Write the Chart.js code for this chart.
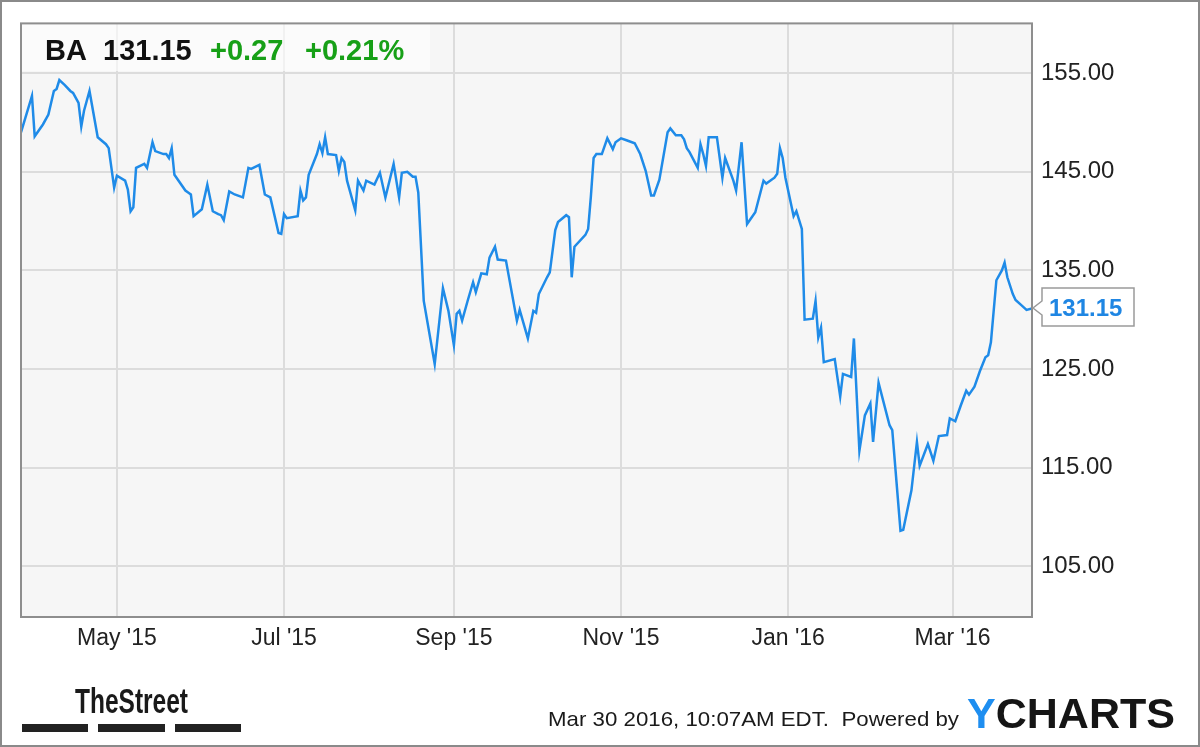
<!DOCTYPE html>
<html>
<head>
<meta charset="utf-8">
<title>BA</title>
<script src="https://cdn.jsdelivr.net/npm/chart.js@4.4.1/dist/chart.umd.min.js"></script>
<style>
  html, body { margin: 0; padding: 0; background: #fff; }
  canvas { display: block; }
</style>
</head>
<body>
<canvas id="ba-chart" width="1200" height="747"></canvas>
<script>
const dates = [
    '2015-03-27', '2015-03-31', '2015-04-01', '2015-04-04', '2015-04-06', '2015-04-08', '2015-04-09', '2015-04-10',
    '2015-04-12', '2015-04-14', '2015-04-15', '2015-04-17', '2015-04-18', '2015-04-19', '2015-04-21', '2015-04-24',
    '2015-04-27', '2015-04-28', '2015-04-30', '2015-05-01', '2015-05-04', '2015-05-05', '2015-05-06', '2015-05-07',
    '2015-05-08', '2015-05-11', '2015-05-12', '2015-05-14', '2015-05-15', '2015-05-18', '2015-05-19', '2015-05-20',
    '2015-05-21', '2015-05-22', '2015-05-26', '2015-05-27', '2015-05-28', '2015-05-29', '2015-06-01', '2015-06-03',
    '2015-06-05', '2015-06-07', '2015-06-08', '2015-06-09', '2015-06-11', '2015-06-13', '2015-06-16', '2015-06-18',
    '2015-06-19', '2015-06-22', '2015-06-24', '2015-06-26', '2015-06-29', '2015-06-30', '2015-07-01', '2015-07-02',
    '2015-07-06', '2015-07-07', '2015-07-08', '2015-07-09', '2015-07-10', '2015-07-13', '2015-07-14', '2015-07-15',
    '2015-07-16', '2015-07-17', '2015-07-20', '2015-07-21', '2015-07-22', '2015-07-23', '2015-07-24', '2015-07-27',
    '2015-07-28', '2015-07-30', '2015-07-31', '2015-08-03', '2015-08-05', '2015-08-07', '2015-08-10', '2015-08-12',
    '2015-08-13', '2015-08-15', '2015-08-17', '2015-08-18', '2015-08-19', '2015-08-21', '2015-08-25', '2015-08-28',
    '2015-08-30', '2015-09-01', '2015-09-02', '2015-09-03', '2015-09-04', '2015-09-06', '2015-09-08', '2015-09-09',
    '2015-09-11', '2015-09-13', '2015-09-14', '2015-09-16', '2015-09-17', '2015-09-20', '2015-09-24', '2015-09-25',
    '2015-09-28', '2015-09-30', '2015-10-01', '2015-10-02', '2015-10-05', '2015-10-06', '2015-10-08', '2015-10-09',
    '2015-10-12', '2015-10-13', '2015-10-14', '2015-10-15', '2015-10-19', '2015-10-20', '2015-10-21', '2015-10-22',
    '2015-10-23', '2015-10-25', '2015-10-27', '2015-10-29', '2015-10-30', '2015-11-01', '2015-11-03', '2015-11-06',
    '2015-11-08', '2015-11-10', '2015-11-12', '2015-11-13', '2015-11-15', '2015-11-18', '2015-11-19', '2015-11-21',
    '2015-11-23', '2015-11-24', '2015-11-25', '2015-11-26', '2015-11-29', '2015-11-30', '2015-12-01', '2015-12-02',
    '2015-12-03', '2015-12-06', '2015-12-08', '2015-12-09', '2015-12-12', '2015-12-13', '2015-12-15', '2015-12-17',
    '2015-12-20', '2015-12-23', '2015-12-24', '2015-12-27', '2015-12-28', '2015-12-29', '2015-12-30', '2015-12-31',
    '2016-01-03', '2016-01-04', '2016-01-06', '2016-01-07', '2016-01-10', '2016-01-11', '2016-01-12', '2016-01-13',
    '2016-01-14', '2016-01-18', '2016-01-20', '2016-01-21', '2016-01-24', '2016-01-25', '2016-01-27', '2016-01-29',
    '2016-01-31', '2016-02-01', '2016-02-03', '2016-02-07', '2016-02-08', '2016-02-11', '2016-02-12', '2016-02-15',
    '2016-02-17', '2016-02-18', '2016-02-21', '2016-02-23', '2016-02-25', '2016-02-28', '2016-02-29', '2016-03-02',
    '2016-03-04', '2016-03-06', '2016-03-07', '2016-03-09', '2016-03-11', '2016-03-13', '2016-03-14', '2016-03-15',
    '2016-03-17', '2016-03-19', '2016-03-20', '2016-03-21', '2016-03-23', '2016-03-24', '2016-03-26', '2016-03-28',
    '2016-03-30'
];

const prices = [
    149.0, 152.7, 148.6, 149.8, 150.8, 153.2, 153.4, 154.3,
    153.8, 153.2, 153.0, 152.0, 149.6, 151.2, 153.2, 148.5,
    147.8, 147.4, 143.4, 144.6, 144.1, 143.2, 141.0, 141.4,
    145.4, 145.8, 145.4, 148.0, 147.1, 146.8, 146.8, 146.4,
    147.4, 144.7, 143.1, 142.9, 142.7, 140.5, 141.2, 143.7,
    141.0, 140.7, 140.6, 140.1, 143.0, 142.7, 142.4, 145.4,
    145.3, 145.7, 142.7, 142.4, 138.8, 138.7, 140.7, 140.3,
    140.5, 143.1, 142.1, 142.4, 144.7, 146.8, 147.8, 146.9,
    148.5, 146.8, 146.7, 145.1, 146.4, 146.0, 144.1, 141.1,
    144.1, 143.1, 144.1, 143.7, 144.9, 142.4, 145.8, 142.4,
    144.9, 145.0, 144.5, 144.5, 142.9, 131.9, 125.5, 133.2,
    130.9, 127.4, 130.6, 130.9, 129.9, 131.9, 133.8, 132.8,
    134.7, 134.6, 136.3, 137.4, 136.1, 136.0, 129.9, 131.0,
    128.1, 130.9, 130.7, 132.6, 134.3, 134.8, 139.1, 139.9,
    140.6, 140.4, 134.3, 137.4, 138.6, 139.2, 142.5, 146.4,
    146.8, 146.8, 148.4, 147.3, 148.0, 148.4, 148.2, 147.9,
    146.8, 145.1, 142.6, 142.6, 144.2, 149.0, 149.4, 148.7,
    148.7, 148.3, 147.4, 147.0, 145.4, 147.8, 146.8, 145.6,
    148.5, 148.5, 144.4, 146.4, 144.1, 143.1, 148.0, 139.7,
    140.9, 144.1, 143.8, 144.4, 144.8, 147.4, 146.4, 144.4,
    140.5, 141.0, 139.2, 130.0, 130.1, 131.9, 128.2, 129.2,
    125.7, 126.0, 122.2, 124.5, 124.2, 128.1, 116.7, 120.3,
    121.5, 117.6, 123.6, 119.3, 118.8, 108.6, 108.7, 112.7,
    117.6, 115.2, 117.4, 115.7, 118.2, 118.3, 120.0, 119.7,
    121.3, 122.8, 122.4, 123.2, 124.8, 126.2, 126.4, 127.7,
    134.0, 135.0, 135.8, 134.3, 132.6, 132.0, 131.5, 131.0,
    131.15
];

const tickDates = ['2015-05-01', '2015-07-01', '2015-09-01', '2015-11-01', '2016-01-01', '2016-03-01'];
const tickLabels = ["May '15", "Jul '15", "Sep '15", "Nov '15", "Jan '16", "Mar '16"];
const yTicks = [105, 115, 125, 135, 145, 155];

const ticker = 'BA';
const lastPrice = '131.15';
const change = '+0.27';
const changePct = '+0.21%';
const stamp = 'Mar 30 2016, 10:07AM EDT.  Powered by';

document.addEventListener('DOMContentLoaded', () => {
    const canvas = document.getElementById('ba-chart');
    const FONT = '"Liberation Sans", Arial, sans-serif';
    const LINE_BLUE = '#1f8be8';

    const toDay = s => Date.UTC(+s.slice(0, 4), +s.slice(5, 7) - 1, +s.slice(8, 10)) / 864e5;
    const points = dates.map((d, i) => ({ x: toDay(d), y: prices[i] }));
    const tickDays = tickDates.map(toDay);

    const drawFitted = (ctx, text, x, y, width, font, color) => {
        ctx.save();
        ctx.font = font;
        ctx.fillStyle = color;
        ctx.textBaseline = 'alphabetic';
        const w = ctx.measureText(text).width;
        ctx.translate(x, y);
        ctx.scale(width / w, 1);
        ctx.fillText(text, 0, 0);
        ctx.restore();
    };

    const ychartsPlugin = {
        id: 'ychartsFrame',
        beforeDraw(chart) {
            const { ctx, chartArea: a } = chart;
            ctx.save();
            ctx.fillStyle = '#fff';
            ctx.fillRect(0, 0, chart.width, chart.height);
            ctx.fillStyle = '#f6f6f6';
            ctx.fillRect(a.left, a.top, a.right - a.left, a.bottom - a.top);
            ctx.restore();
        },
        beforeDatasetsDraw(chart) {
            const { ctx, chartArea: a } = chart;
            ctx.save();
            // header box over the grid
            ctx.fillStyle = 'rgba(255,255,255,0.6)';
            ctx.fillRect(a.left, a.top, 430 - a.left, 71 - a.top);
            ctx.font = `bold 29px ${FONT}`;
            ctx.textBaseline = 'alphabetic';
            ctx.fillStyle = '#111';
            ctx.fillText(ticker, 45, 60);
            ctx.fillText(lastPrice, 103, 60);
            ctx.fillStyle = '#17a017';
            ctx.fillText(change, 210, 60);
            ctx.fillText(changePct, 305, 60);
            ctx.restore();
        },
        afterDraw(chart) {
            const { ctx, chartArea: a, scales } = chart;
            ctx.save();

            ctx.strokeStyle = '#8e8e8e';
            ctx.lineWidth = 2;
            ctx.strokeRect(a.left, a.top, a.right - a.left, a.bottom - a.top);

            // last price tag
            const py = Math.round(scales.y.getPixelForValue(prices[prices.length - 1]));
            const bx = 1042, bw = 92, top = py - 20, bottom = py + 18;
            ctx.beginPath();
            ctx.moveTo(bx, top);
            ctx.lineTo(bx + bw, top);
            ctx.lineTo(bx + bw, bottom);
            ctx.lineTo(bx, bottom);
            ctx.lineTo(bx, py + 7);
            ctx.lineTo(a.right + 1, py);
            ctx.lineTo(bx, py - 7);
            ctx.closePath();
            ctx.fillStyle = '#fff';
            ctx.fill();
            ctx.strokeStyle = '#9a9a9a';
            ctx.lineWidth = 1.5;
            ctx.stroke();
            ctx.font = `bold 24px ${FONT}`;
            ctx.fillStyle = '#1f86e3';
            ctx.textBaseline = 'alphabetic';
            ctx.fillText(lastPrice, 1049, py + 8);

            // TheStreet logo
            drawFitted(ctx, 'TheStreet', 75, 713, 113, `bold 35px ${FONT}`, '#1a1a1a');
            ctx.fillStyle = '#222';
            ctx.fillRect(22, 724, 66, 8);
            ctx.fillRect(98, 724, 67, 8);
            ctx.fillRect(175, 724, 66, 8);

            // footer
            drawFitted(ctx, stamp, 548, 726, 411, `21px ${FONT}`, '#1a1a1a');
            ctx.font = `bold 42px ${FONT}`;
            const full = ctx.measureText('YCHARTS').width;
            const s = 208 / full;
            const yw = ctx.measureText('Y').width;
            ctx.translate(967, 728);
            ctx.scale(s, 1);
            ctx.fillStyle = '#1e8ef0';
            ctx.fillText('Y', 0, 0);
            ctx.fillStyle = '#151515';
            ctx.fillText('CHARTS', yw, 0);
            ctx.setTransform(1, 0, 0, 1, 0, 0);

            // outer frame
            ctx.strokeStyle = '#8a8a8a';
            ctx.lineWidth = 2;
            ctx.strokeRect(1, 1, chart.width - 2, chart.height - 2);
            ctx.restore();
        }
    };

    new Chart(canvas, {
        type: 'line',
        data: {
            datasets: [{
                label: ticker,
                data: points,
                borderColor: LINE_BLUE,
                borderWidth: 2.5,
                pointRadius: 0,
                tension: 0,
                fill: false
            }]
        },
        options: {
            responsive: false,
            devicePixelRatio: 1,
            animation: false,
            layout: { padding: { left: 21, top: 22, right: 0, bottom: 0 } },
            plugins: { legend: { display: false }, tooltip: { enabled: false } },
            scales: {
                x: {
                    type: 'linear',
                    min: points[0].x,
                    max: points[points.length - 1].x,
                    afterBuildTicks: scale => { scale.ticks = tickDays.map(v => ({ value: v })); },
                    afterFit: scale => { scale.height = 130; },
                    grid: { color: '#dcdcdc', lineWidth: 2, drawTicks: false },
                    border: { display: false },
                    ticks: {
                        autoSkip: false,
                        maxRotation: 0,
                        padding: 8,
                        color: '#222',
                        font: { family: FONT, size: 23 },
                        callback: (v, i) => tickLabels[i]
                    }
                },
                y: {
                    position: 'right',
                    min: 99.85,
                    max: 160.05,
                    afterBuildTicks: scale => { scale.ticks = yTicks.map(v => ({ value: v })); },
                    afterFit: scale => { scale.width = 168; },
                    grid: { color: '#dcdcdc', lineWidth: 2, drawTicks: false },
                    border: { display: false },
                    ticks: {
                        padding: 9,
                        color: '#222',
                        font: { family: FONT, size: 24 },
                        callback: v => Number(v).toFixed(2)
                    }
                }
            }
        },
        plugins: [ychartsPlugin]
    });
});
</script>
</body>
</html>
